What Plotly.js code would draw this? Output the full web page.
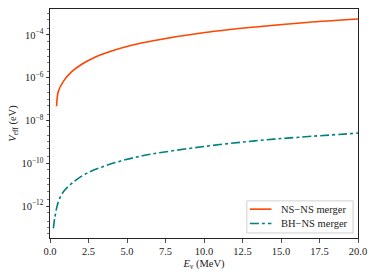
<!DOCTYPE html>
<html><head><meta charset="utf-8">
<script src="https://cdn.plot.ly/plotly-3.0.1.min.js"></script>
<style>html,body{margin:0;padding:0;background:#fff;}#chart{width:374px;height:274px;}</style>
</head><body><div id="chart"></div>
<script>
const nsnsE = [0.43, 0.54, 0.87, 1.41, 2.06, 2.92, 4.0, 5.3, 6.7, 10.06, 13.5, 16.67, 20.0];
const nsnsV = [4.68e-8, 2.29e-7, 6.76e-7, 1.91e-6, 4.27e-6, 9.12e-6, 1.78e-5, 3.31e-5, 5.37e-5, 1.29e-4, 2.40e-4, 3.80e-4, 5.50e-4];
const bhnsE = [0.22, 0.32, 0.54, 0.87, 1.41, 2.27, 3.35, 4.87, 6.6, 10.06, 13.3, 16.2, 20.0];
const bhnsV = [9.12e-14, 3.16e-13, 1.58e-12, 4.68e-12, 1.15e-11, 3.09e-11, 6.61e-11, 1.45e-10, 2.69e-10, 6.17e-10, 1.12e-9, 1.66e-9, 2.57e-9];
const seriesNames = ["NS\u2212NS merger", "BH\u2212NS merger"];
const seriesColors = ["#ff4500", "#008080"];
const seriesDash = ["solid", "dashdot"];
const xTicks = [0, 2.5, 5, 7.5, 10, 12.5, 15, 17.5, 20];
const xTickText = ["0.0", "2.5", "5.0", "7.5", "10.0", "12.5", "15.0", "17.5", "20.0"];
const yTicks = [1e-12, 1e-10, 1e-8, 1e-6, 1e-4];
const yTickText = ["10<sup>\u221212</sup>", "10<sup>\u221210</sup>", "10<sup>\u22128</sup>", "10<sup>\u22126</sup>", "10<sup>\u22124</sup>"];

const fam = "Liberation Serif, DejaVu Serif, serif";
const ink = "#222";
const traces = [
  {x: nsnsE, y: nsnsV, name: seriesNames[0], mode: "lines", line: {color: seriesColors[0], width: 1.6, shape: "spline", smoothing: 1}},
  {x: bhnsE, y: bhnsV, name: seriesNames[1], mode: "lines", line: {color: seriesColors[1], width: 1.6, dash: seriesDash[1], shape: "spline", smoothing: 1}}
];

// custom legend (box, line samples, labels) in paper coordinates
const legBox = {x0: 0.639, x1: 0.984, y0: 0.022, y1: 0.162};
const legRows = [0.126, 0.063];
const shapes = [
  {type: "rect", xref: "paper", yref: "paper", x0: legBox.x0, x1: legBox.x1, y0: legBox.y0, y1: legBox.y1,
   line: {color: "#d0d0d0", width: 1}, fillcolor: "rgba(255,255,255,0.8)", layer: "above"}
];
const annotations = [];
seriesNames.forEach((n, i) => {
  shapes.push({type: "line", xref: "paper", yref: "paper", x0: 0.649, x1: 0.719, y0: legRows[i], y1: legRows[i],
               line: {color: seriesColors[i], width: 1.6, dash: seriesDash[i]}, layer: "above"});
  annotations.push({xref: "paper", yref: "paper", x: 0.742, y: legRows[i], xanchor: "left", yanchor: "middle",
                    text: n, showarrow: false, font: {family: fam, size: 10.5, color: ink}});
});

const layout = {
  width: 374, height: 274,
  margin: {l: 50, r: 16, t: 9, b: 36},
  paper_bgcolor: "#fff", plot_bgcolor: "#fff",
  font: {family: fam, size: 10.5, color: ink},
  showlegend: false,
  shapes: shapes,
  annotations: annotations,
  xaxis: {range: [0, 20], tickvals: xTicks, ticktext: xTickText, ticks: "outside", ticklen: 3.5, tickwidth: 0.8,
          tickcolor: ink, showline: true, linecolor: ink, linewidth: 1, mirror: true, showgrid: false, zeroline: false,
          tickfont: {family: fam, size: 10.5, color: ink},
          title: {text: "<i>E</i><sub>\u03bd</sub> (MeV)", font: {family: fam, size: 10.5, color: ink}, standoff: 3}},
  yaxis: {type: "log", range: [-13.49, -2.79], tickvals: yTicks, ticktext: yTickText, ticks: "outside", ticklen: 3.5, tickwidth: 0.8,
          tickcolor: ink, showline: true, linecolor: ink, linewidth: 1, mirror: true, showgrid: false, zeroline: false,
          tickfont: {family: fam, size: 10.5, color: ink},
          minor: {ticks: "outside", ticklen: 2, tickwidth: 0.6, tickcolor: ink, showgrid: false},
          title: {text: "<i>V</i><sub>eff</sub> (eV)", font: {family: fam, size: 10.5, color: ink}, standoff: 2}}
};
Plotly.newPlot("chart", traces, layout, {staticPlot: true, displayModeBar: false});
</script></body></html>
